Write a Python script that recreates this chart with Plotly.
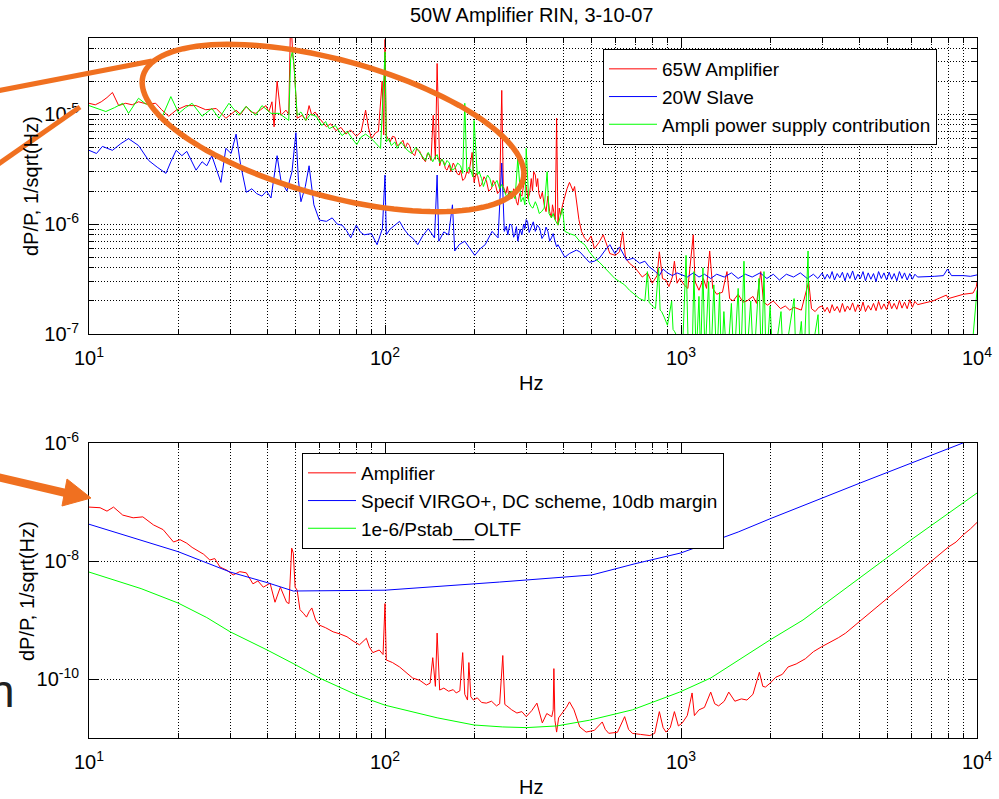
import numpy as np
import plotly.graph_objects as go

W, H = 999, 799
FONT = "Liberation Sans, Arial, Helvetica, sans-serif"

# ---------------- data (frequency Hz, RIN 1/sqrt(Hz)) ----------------
AMP65_TOP = [
    (10, 1.26e-5), (10.5, 1.22e-5), (11.0, 1.3e-5), (11.5, 1.42e-5), (12.0, 1.58e-5), (12.6, 1.2e-5),
    (13.3, 1.26e-5), (14.0, 1.22e-5), (14.7, 1.3e-5), (15.7, 1.24e-5), (16.8, 1.26e-5), (17.6, 1.1e-5),
    (18.6, 9.6e-6), (19.7, 1.09e-5), (21.3, 1.2e-5), (23.0, 1.2e-5), (24.8, 1.1e-5), (26.9, 1.13e-5),
    (29.0, 9.2e-6), (31.4, 1.09e-5), (32.5, 1.0e-5), (34.0, 1.18e-5), (35.3, 1.05e-5), (36.6, 1.02e-5),
    (38.0, 1.1e-5), (39.6, 1.2e-5), (40.5, 1.05e-5), (41.5, 1.3e-5), (42.2, 7.7e-6), (43.2, 2.0e-5),
    (44.5, 9.8e-6), (46.3, 1.09e-5), (47.3, 1.0e-5), (48.0, 8e-5), (48.8, 3.5e-5), (49.3, 2.8e-5),
    (50.5, 9.2e-6), (52.5, 9.8e-6), (54.0, 8.8e-6), (55.4, 1.2e-5), (56.6, 9.8e-6), (58.0, 1.05e-5),
    (60.0, 9.2e-6), (61.5, 8.5e-6), (63.4, 7.7e-6), (65.5, 8.2e-6), (68.3, 7.1e-6), (71.0, 7.6e-6),
    (73.8, 6.6e-6), (76.5, 7.2e-6), (80.0, 6.3e-6), (83.0, 6.9e-6), (86.0, 1.09e-5), (88.0, 7.5e-6),
    (90.0, 6.0e-6), (93.0, 6.8e-6), (95.0, 7.0e-6), (97.8, 2.0e-5), (99.0, 6.5e-6), (100.0, 4.8e-5),
    (101.0, 6.4e-6), (104, 5.6e-6), (106, 6.3e-6), (108, 6.2e-6), (110, 5.2e-6), (112, 5.3e-6),
    (115, 5.8e-6), (117, 4.9e-6), (119, 5.5e-6), (121, 5.2e-6), (123, 4.5e-6), (126, 4.2e-6),
    (128, 4.9e-6), (131, 4.6e-6), (134, 4.0e-6), (137, 3.7e-6), (139, 4.4e-6), (141, 4.3e-6),
    (143, 3.8e-6), (145.5, 9.8e-6), (148, 3.9e-6), (150, 2.9e-5), (153, 3.4e-6), (155, 3.9e-6),
    (158, 3.7e-6), (160, 3.2e-6), (162, 3.1e-6), (165, 3.5e-6), (167, 3.0e-6), (170, 3.6e-6),
    (172, 3.4e-6), (175, 2.9e-6), (178, 2.8e-6), (180, 3.1e-6), (183, 2.5e-6), (186, 2.6e-6),
    (189, 3.0e-6), (192, 2.9e-6), (197, 4.5e-6), (200, 2.4e-6), (203, 2.9e-6), (206, 2.7e-6),
    (209, 2.2e-6), (212, 2.3e-6), (216, 2.7e-6), (220, 2.5e-6), (224, 2.0e-6), (229, 2.1e-6),
    (232, 2.5e-6), (236, 2.3e-6), (240, 1.9e-6), (244, 2.0e-6), (248, 1.65e-5), (251, 2.2e-6),
    (256, 1.9e-6), (259, 2.2e-6), (262, 1.8e-6), (265, 2.0e-6), (268, 1.7e-6), (272, 2.1e-6),
    (275, 1.9e-6), (278, 1.6e-6), (281, 1.49e-6), (285, 1.9e-6), (290, 1.8e-6), (295, 2.4e-6),
    (300, 2.2e-6), (304, 1.7e-6), (308, 1.9e-6), (312, 2.6e-6), (315, 2.0e-6), (318, 3.0e-6),
    (322, 2.8e-6), (325, 2.2e-6), (328, 2.6e-6), (331, 1.9e-6), (335, 1.7e-6), (340, 1.95e-6),
    (345, 1.5e-6), (350, 1.3e-6), (355, 1.8e-6), (360, 1.3e-6), (365, 1.14e-6), (368, 1.5e-6),
    (372, 1.3e-6), (376, 1.1e-6), (380, 9.2e-6), (384, 9.8e-7), (388, 1.4e-6), (392, 1.2e-6),
    (398, 1.5e-6), (405, 1.8e-6), (412, 2.1e-6), (420, 2.4e-6), (426, 2.2e-6), (432, 2.0e-6),
    (437, 2.2e-6), (443, 1.7e-6), (452, 1.1e-6), (461, 8.6e-7), (472, 7.5e-7), (484, 7.0e-7),
    (497, 7.8e-7), (510, 6.0e-7), (528, 6.8e-7), (546, 8.0e-7), (560, 6.5e-7), (575, 5.4e-7),
    (600, 5.2e-7), (620, 5.6e-7), (635, 8.5e-7), (650, 4.9e-7), (670, 4.4e-7), (700, 4.0e-7),
    (740, 3.3e-7), (770, 3.6e-7), (800, 2.9e-7), (830, 3.4e-7), (845, 5.6e-7), (866, 3.2e-7),
    (890, 3.1e-7), (910, 2.7e-7), (935, 3.3e-7), (950, 4.6e-7), (970, 2.9e-7), (990, 3.2e-7),
    (1025, 2.8e-7), (1055, 2.6e-7), (1100, 8.0e-7), (1115, 3.0e-7), (1150, 2.5e-7), (1190, 3.2e-7),
    (1220, 2.6e-7), (1250, 5.7e-7), (1280, 2.6e-7), (1320, 2.3e-7), (1380, 2.4e-7), (1430, 3.7e-7),
    (1460, 2.1e-7), (1500, 2.0e-7), (1560, 2.3e-7), (1620, 1.95e-7), (1670, 2.0e-7), (1750, 2.2e-7),
    (1800, 1.9e-7), (1860, 3.7e-7), (1900, 1.95e-7), (1960, 1.83e-7), (2050, 2.0e-7), (2170, 1.7e-7),
    (2250, 1.8e-7), (2330, 1.65e-7), (2410, 1.75e-7), (2550, 1.65e-7), (2700, 3.0e-7), (2760, 1.7e-7),
    (2840, 1.6e-7), (2920, 1.75e-7),
    (3000, 1.8e-7), (3060, 1.6e-7), (3120, 1.75e-7), (3180, 1.55e-7), (3240, 1.85e-7), (3300, 1.62e-7),
    (3370, 1.78e-7), (3440, 1.57e-7), (3510, 1.9e-7), (3580, 1.6e-7), (3650, 1.8e-7), (3720, 1.65e-7),
    (3800, 1.92e-7), (3880, 1.6e-7), (3960, 1.85e-7), (4040, 1.62e-7), (4120, 1.95e-7), (4200, 1.6e-7),
    (4290, 1.82e-7), (4380, 1.65e-7), (4470, 1.9e-7), (4560, 1.63e-7), (4650, 1.98e-7), (4750, 1.68e-7),
    (4850, 1.88e-7), (4950, 1.66e-7), (5050, 2.0e-7), (5150, 1.7e-7), (5250, 1.9e-7), (5360, 1.68e-7),
    (5470, 2.02e-7), (5580, 1.72e-7), (5690, 1.95e-7), (5810, 1.7e-7), (5930, 2.05e-7), (6050, 1.75e-7),
    (6170, 1.98e-7), (6300, 1.85e-7), (7100, 2.0e-7), (7880, 2.26e-7), (8000, 2.1e-7), (9000, 2.3e-7),
    (9700, 2.36e-7), (9950, 2.7e-7), (10000, 3.0e-7),
]

SLAVE20_TOP = [
    (10, 4.7e-6), (10.6, 4.4e-6), (11.1, 5.1e-6), (12.0, 4.7e-6), (12.8, 5.4e-6), (13.6, 6.0e-6),
    (14.7, 5.2e-6), (15.9, 3.8e-6), (17.0, 3.3e-6), (18.2, 2.9e-6), (18.9, 3.7e-6), (19.7, 4.7e-6),
    (20.6, 4.2e-6), (21.4, 4.6e-6), (23.0, 3.1e-6), (24.1, 3.7e-6), (25.0, 3.4e-6), (26.0, 4.2e-6),
    (27.9, 2.4e-6), (29.0, 4.9e-6), (30.2, 4.4e-6), (31.4, 6.6e-6), (32.5, 3.5e-6), (34.0, 1.95e-6),
    (35.5, 2.1e-6), (36.8, 1.9e-6), (38.4, 1.8e-6), (39.8, 2.0e-6), (41.2, 1.73e-6), (43.2, 4.2e-6),
    (44.5, 2.5e-6), (46.6, 2.0e-6), (48.5, 3.0e-6), (50.0, 6.8e-6), (51.0, 2.5e-6), (52.0, 1.6e-6),
    (53.8, 2.2e-6), (55.4, 3.4e-6), (57.5, 1.5e-6), (60.0, 1.09e-6), (63.4, 1.06e-6), (66.3, 1.14e-6),
    (69.0, 1.0e-6), (71.6, 9.8e-7), (74.0, 8.8e-7), (76.6, 7.5e-7), (80.0, 9.8e-7), (82.5, 8.5e-7),
    (85.0, 8.0e-7), (90.0, 8.2e-7), (94.0, 6.5e-7), (98.0, 9.1e-7), (100.0, 2.8e-6), (101, 8.0e-7),
    (104, 9.0e-7), (108, 9.8e-7), (112, 1.06e-6), (116, 9.0e-7), (120, 8.0e-7), (125, 7.3e-7),
    (129, 6.5e-7), (134, 7.8e-7), (140, 9.1e-7), (147, 7.5e-7), (150, 2.8e-6), (152, 7.0e-7),
    (158, 8.5e-7), (164, 8.0e-7), (169, 1.5e-6), (172, 5.7e-7), (178, 6.5e-7), (186, 7.0e-7),
    (193, 6.0e-7), (201, 5.2e-7), (210, 6.0e-7), (218, 6.5e-7), (230, 8.6e-7), (241, 7.5e-7),
    (248, 3.6e-6), (253, 8.6e-7), (257, 9.6e-7), (260, 8.0e-7), (264, 1.0e-6), (268, 9.8e-7),
    (272, 7.6e-7), (275, 8.2e-7), (278, 9.5e-7), (281, 7.0e-7), (286, 9.0e-7), (290, 8.0e-7),
    (294, 1.0e-6), (297, 9.1e-7), (300, 1.1e-6), (303, 1.06e-6), (307, 8.4e-7), (312, 9.5e-7),
    (317, 1.05e-6), (322, 8.6e-7), (327, 9.8e-7), (333, 9.2e-7), (339, 7.4e-7), (345, 8.0e-7),
    (350, 9.4e-7), (355, 8.6e-7), (360, 7.0e-7), (365, 7.5e-7), (370, 8.2e-7), (375, 7.0e-7),
    (380, 6.2e-7), (384, 6.5e-7), (390, 6.0e-7), (395, 5.8e-7), (405, 5.0e-7), (420, 5.4e-7),
    (443, 5.8e-7), (455, 5.6e-7), (473, 5.0e-7), (490, 4.5e-7), (510, 4.6e-7), (530, 4.9e-7),
    (552, 5.7e-7), (575, 6.5e-7), (598, 5.4e-7), (620, 6.2e-7), (655, 4.7e-7), (690, 4.9e-7),
    (725, 4.4e-7), (755, 4.6e-7), (780, 4.1e-7), (820, 3.7e-7), (845, 3.4e-7), (870, 3.9e-7),
    (900, 3.6e-7), (935, 3.4e-7), (970, 3.6e-7), (1000, 3.5e-7), (1050, 3.3e-7), (1100, 3.6e-7),
    (1150, 3.3e-7), (1200, 3.5e-7), (1260, 3.2e-7), (1320, 3.5e-7), (1400, 3.3e-7), (1480, 3.6e-7),
    (1560, 3.2e-7), (1650, 3.5e-7), (1740, 3.3e-7), (1850, 3.6e-7), (1950, 3.2e-7), (2050, 3.5e-7),
    (2150, 3.1e-7), (2270, 3.5e-7), (2400, 3.3e-7), (2530, 3.6e-7), (2670, 3.2e-7), (2800, 3.5e-7),
    (2900, 3.2e-7),
    (3000, 3.6e-7), (3060, 3.15e-7), (3120, 3.5e-7), (3180, 3.2e-7), (3240, 3.7e-7), (3300, 3.1e-7),
    (3370, 3.55e-7), (3440, 3.25e-7), (3510, 3.65e-7), (3580, 3.05e-7), (3650, 3.6e-7), (3720, 3.2e-7),
    (3800, 3.75e-7), (3880, 3.1e-7), (3960, 3.5e-7), (4040, 3.2e-7), (4120, 3.7e-7), (4200, 3.05e-7),
    (4290, 3.6e-7), (4380, 3.15e-7), (4470, 3.55e-7), (4560, 3.0e-7), (4650, 3.7e-7), (4750, 3.2e-7),
    (4850, 3.6e-7), (4950, 3.1e-7), (5050, 3.65e-7), (5150, 3.15e-7), (5250, 3.55e-7), (5360, 3.05e-7),
    (5470, 3.7e-7), (5580, 3.2e-7), (5690, 3.6e-7), (5810, 3.1e-7), (5930, 3.55e-7), (6050, 3.15e-7),
    (6170, 3.5e-7), (6300, 3.3e-7), (7170, 3.35e-7), (7700, 3.4e-7), (7950, 3.9e-7), (8200, 3.4e-7),
    (9000, 3.4e-7), (9500, 3.35e-7), (10000, 3.45e-7),
]

SUPPLY_TOP = [
    (10, 1.2e-5), (11.4, 1.06e-5), (12.2, 1.15e-5), (13.0, 1.26e-5), (13.6, 1.02e-5), (14.7, 1.4e-5),
    (15.5, 1.25e-5), (16.3, 1.2e-5), (17.7, 9.6e-6), (18.9, 1.45e-5), (20.1, 1.02e-5), (21.2, 1.15e-5),
    (22.3, 1.26e-5), (24.1, 9.6e-6), (26.0, 1.13e-5), (27.5, 9.2e-6), (29.7, 1.26e-5), (32.1, 9.8e-6),
    (33.9, 1.18e-5), (36.6, 9.8e-6), (38.4, 1.2e-5), (41.2, 1.02e-5), (43.9, 1.02e-5), (46.3, 9.2e-6),
    (47.3, 8.8e-6), (48.0, 3.2e-5), (48.7, 3.8e-5), (49.4, 2.5e-5), (50.5, 9.8e-6), (52.0, 1.05e-5),
    (54.0, 8.8e-6), (56.0, 1.0e-5), (58.5, 9.6e-6), (61.2, 7.9e-6), (63.0, 8.6e-6), (64.8, 7.4e-6),
    (68.0, 7.9e-6), (71.6, 6.4e-6), (74.5, 7.0e-6), (77.5, 6.0e-6), (80.3, 5.3e-6), (83.0, 6.2e-6),
    (86.0, 6.6e-6), (90.0, 6.0e-6), (93.0, 5.5e-6), (96.6, 4.9e-6), (99.0, 2.0e-5), (100.0, 3.7e-5),
    (101.0, 5.6e-6), (103, 6.0e-6), (105, 5.2e-6), (108, 5.6e-6), (110, 4.9e-6), (113, 5.6e-6),
    (115, 5.3e-6), (119, 4.7e-6), (123, 4.4e-6), (127, 5.0e-6), (130, 4.6e-6), (134, 4.1e-6),
    (137, 3.8e-6), (140, 4.5e-6), (142, 4.2e-6), (145, 3.7e-6), (147, 4.0e-6), (150, 4.3e-6),
    (153, 3.6e-6), (156, 3.9e-6), (159, 3.4e-6), (162, 3.8e-6), (165, 3.6e-6), (168, 3.1e-6),
    (172, 3.2e-6), (176, 3.6e-6), (180, 3.4e-6), (183, 2.9e-6), (186, 1.26e-5), (189, 3.0e-6),
    (192, 3.3e-6), (195, 3.1e-6), (198, 2.7e-6), (200, 8.8e-6), (205, 2.8e-6), (208, 3.0e-6),
    (212, 2.6e-6), (215, 2.2e-6), (218, 2.45e-6), (222, 2.8e-6), (226, 2.6e-6), (230, 2.2e-6),
    (234, 2.3e-6), (239, 2.5e-6), (244, 2.1e-6), (248, 2.3e-6), (253, 2.0e-6), (257, 1.8e-6),
    (262, 1.9e-6), (268, 2.0e-6), (275, 1.7e-6), (281, 4.0e-6), (288, 1.6e-6), (293, 1.75e-6),
    (297, 1.5e-6), (300, 4.9e-6), (306, 1.6e-6), (311, 1.45e-6), (316, 1.4e-6), (322, 1.6e-6),
    (327, 1.45e-6), (332, 1.25e-6), (338, 1.3e-6), (345, 1.4e-6), (353, 3.0e-6), (358, 1.25e-6),
    (365, 1.14e-6), (370, 1.25e-6), (375, 1.1e-6), (384, 9.8e-7), (398, 1.4e-6), (405, 8.6e-7),
    (420, 8.2e-7), (438, 7.9e-7), (455, 7.0e-7), (473, 6.5e-7), (490, 5.6e-7), (510, 4.9e-7),
    (530, 4.5e-7), (552, 4.0e-7), (575, 3.6e-7), (598, 3.2e-7), (620, 3.0e-7), (645, 2.8e-7),
    (670, 2.5e-7), (700, 2.26e-7), (725, 2.1e-7), (755, 2.0e-7), (770, 3.7e-7), (780, 1.95e-7),
    (795, 1.83e-7), (820, 1.7e-7), (840, 4.0e-7), (850, 1.65e-7), (860, 1.6e-7), (880, 1.4e-7),
    (900, 1.2e-7), (930, 2.0e-7), (940, 1.1e-7), (950, 1.06e-7), (970, 9.5e-8), (990, 8.5e-8),
    (1010, 6e-8), (1040, 5.2e-7), (1060, 6e-8), (1090, 6e-8), (1106, 3.7e-7), (1125, 6e-8),
    (1150, 2.2e-7), (1165, 6e-8), (1186, 4.0e-7), (1205, 6e-8), (1240, 3.0e-7), (1260, 5e-8),
    (1291, 2.8e-7), (1320, 5e-8), (1350, 2.4e-7), (1370, 5e-8), (1396, 1.6e-7), (1430, 5e-8),
    (1480, 1.9e-7), (1510, 5e-8), (1560, 2.6e-7), (1590, 5e-8), (1632, 4.6e-7), (1660, 5e-8),
    (1720, 2.0e-7), (1760, 5e-8), (1834, 3.2e-7), (1870, 5e-8), (1907, 3.7e-7), (1940, 5e-8),
    (2000, 1.8e-7), (2050, 5e-8), (2177, 1.6e-7), (2220, 5e-8), (2410, 2.1e-7), (2450, 5e-8),
    (2550, 1.3e-7), (2600, 5e-8), (2687, 5.7e-7), (2720, 5e-8), (2904, 1.5e-7), (2950, 5e-8),
    (9500, 5e-8), (9800, 1.5e-7), (10000, 2.5e-7),
]

AMP_BOTTOM = [
    (10, 8.2e-8), (10.9, 8.0e-8), (11.5, 7.0e-8), (12.1, 8.2e-8), (13.0, 6.0e-8), (14.1, 5.4e-8),
    (15.2, 5.6e-8), (16.5, 4.1e-8), (17.8, 3.4e-8), (19.3, 2.1e-8), (20.3, 2.3e-8), (21.4, 2.0e-8),
    (22.3, 1.7e-8), (23.2, 1.5e-8), (24.4, 1.3e-8), (25.6, 1.04e-8), (26.6, 1.1e-8), (27.7, 7.9e-9),
    (29.2, 7.0e-9), (30.7, 5.8e-9), (32.3, 6.6e-9), (34.0, 6.3e-9), (35.8, 4.1e-9), (37.2, 4.6e-9),
    (38.8, 3.6e-9), (40.9, 4.2e-9), (42.5, 2.0e-9), (44.3, 3.6e-9), (45.5, 2.6e-9), (46.5, 2.0e-9),
    (47.4, 1.9e-9), (48.0, 8e-9), (48.4, 1.65e-8), (49.0, 1.36e-8), (49.7, 3.6e-9), (50.5, 3.2e-9),
    (51.6, 1.5e-9), (53.0, 1.3e-9), (54.3, 1.12e-9), (55.5, 1.4e-9), (56.6, 1.6e-9), (58.3, 1.0e-9),
    (60.0, 8.2e-10), (63.0, 7.4e-10), (66.8, 6.3e-10), (70.5, 5.8e-10), (74.4, 5.2e-10), (78.0, 4.4e-10),
    (82.0, 3.8e-10), (86.5, 4.9e-10), (88.5, 3.5e-10), (91.0, 2.8e-10), (95.6, 3.1e-10), (98.5, 2.6e-10),
    (100, 1.9e-9), (101, 2.1e-10), (106, 1.9e-10), (112, 1.6e-10), (118, 1.3e-10), (124, 1.04e-10),
    (131, 9.5e-11), (138, 7.9e-11), (142, 8.5e-11), (145, 2.3e-10), (148, 7.5e-11), (150, 6.0e-10),
    (153, 6.5e-11), (158, 7.0e-11), (164, 6.2e-11), (170, 6.6e-11), (174, 5.8e-11), (179, 6.3e-11),
    (183, 2.8e-10), (186, 5.5e-11), (190, 4.4e-11), (192, 1.9e-10), (195, 5.0e-11), (199, 4.4e-11),
    (205, 4.8e-11), (212, 4.0e-11), (220, 3.9e-11), (229, 4.2e-11), (238, 3.5e-11), (244, 3.8e-11),
    (250, 2.5e-10), (254, 3.7e-11), (258, 3.5e-11), (268, 3.0e-11), (279, 2.65e-11), (290, 2.8e-11),
    (300, 2.3e-11), (313, 2.9e-11), (326, 3.9e-11), (333, 2.5e-11), (340, 1.8e-11), (352, 2.6e-11),
    (366, 2.3e-11), (370, 3.0e-11), (372, 1.5e-10), (375, 2.0e-11), (380, 1.26e-11), (386, 2.2e-11),
    (398, 2.65e-11), (410, 3.3e-11), (420, 4.1e-11), (435, 3.0e-11), (455, 1.54e-11), (466, 1.4e-11),
    (478, 1.26e-11), (510, 1.35e-11), (542, 1.87e-11), (555, 1.4e-11), (570, 1.2e-11), (610, 1.25e-11),
    (645, 2.3e-11), (665, 1.4e-11), (685, 1.2e-11), (730, 1.15e-11), (785, 1.1e-11), (815, 1.2e-11),
    (845, 2.8e-11), (870, 1.5e-11), (890, 1.26e-11), (920, 1.5e-11), (950, 2.8e-11), (980, 1.6e-11),
    (1010, 1.8e-11), (1050, 2.4e-11), (1090, 5.8e-11), (1110, 2.4e-11), (1150, 3.0e-11), (1200, 3.3e-11),
    (1260, 6.0e-11), (1300, 3.8e-11), (1340, 3.5e-11), (1400, 4.2e-11), (1450, 6.0e-11), (1520, 4.2e-11),
    (1600, 4.6e-11), (1670, 4.4e-11), (1750, 5.5e-11), (1840, 1.3e-10), (1890, 7.5e-11), (1930, 7.3e-11),
    (2000, 8.5e-11), (2090, 1.07e-10), (2200, 1.2e-10), (2300, 1.6e-10), (2450, 1.8e-10), (2630, 2.2e-10),
    (2800, 2.9e-10), (2980, 3.5e-10), (3200, 4.2e-10), (3400, 5.0e-10), (3600, 6.0e-10), (3800, 7.5e-10),
    (3990, 9.5e-10), (4250, 1.2e-9), (4560, 1.6e-9), (5000, 2.4e-9), (5500, 3.5e-9), (6000, 5.1e-9),
    (6500, 7.2e-9), (7000, 9.8e-9), (7500, 1.3e-8), (8000, 1.72e-8), (8500, 2.1e-8), (9000, 2.8e-8),
    (9500, 3.5e-8), (10000, 4.5e-8),
]

SPEC_BOTTOM = [
    (10, 4.2e-8), (20, 1.44e-8), (30, 6.5e-9), (40, 4.3e-9), (49, 3.1e-9), (100, 3.2e-9),
    (244, 4.4e-9), (500, 5.8e-9), (700, 9.0e-9), (1000, 1.37e-8), (1560, 3.1e-8), (2000, 5.2e-8),
    (4030, 2.1e-7), (8980, 1.0e-6), (10000, 1.24e-6),
]

OLTF_BOTTOM = [
    (10, 6.5e-9), (12, 4.9e-9), (15, 3.4e-9), (20, 1.94e-9), (25, 1.1e-9), (30, 6.3e-10),
    (40, 3.1e-10), (50, 1.73e-10), (60, 1.04e-10), (80, 5.4e-11), (100, 3.6e-11), (150, 2.2e-11),
    (200, 1.66e-11), (250, 1.54e-11), (300, 1.5e-11), (380, 1.6e-11), (490, 2.0e-11), (685, 3.0e-11),
    (990, 6.0e-11), (1260, 1.04e-10), (2000, 4.6e-10), (2583, 1.0e-9), (3110, 2.0e-9), (4030, 5.4e-9),
    (6000, 2.3e-8), (10000, 1.42e-7),
]

X_TICKS = [10, 100, 1000, 10000]
X_TICK_TEXT = ["10<sup>1</sup>", "10<sup>2</sup>", "10<sup>3</sup>", "10<sup>4</sup>"]
X_MINOR = [m * 10 ** k for k in (1, 2, 3) for m in range(2, 10)]
Y1_TICKS = [1e-7, 1e-6, 1e-5]
Y1_TICK_TEXT = ["10<sup>-7</sup>", "10<sup>-6</sup>", "10<sup>-5</sup>"]
Y1_MINOR = [m * 10.0 ** k for k in (-7, -6) for m in range(2, 10)] + [2e-5, 3e-5, 4e-5]
Y2_TICKS = [1e-10, 1e-8, 1e-6]
Y2_TICK_TEXT = ["10<sup>-10</sup>", "10<sup>-8</sup>", "10<sup>-6</sup>"]

RED, BLUE, GREEN = "#ff0000", "#0000ff", "#00ff00"
ORANGE = "#f07020"


def xy(pairs):
    return [p[0] for p in pairs], [p[1] for p in pairs]


fig = go.Figure()

for pairs, name, color in [(AMP65_TOP, "65W Amplifier", RED),
                           (SLAVE20_TOP, "20W Slave", BLUE),
                           (SUPPLY_TOP, "Ampli power supply contribution", GREEN)]:
    fx, fy = xy(pairs)
    fig.add_trace(go.Scatter(x=fx, y=fy, mode="lines", name=name, line=dict(color=color, width=1),
                             xaxis="x", yaxis="y", legend="legend"))

for pairs, name, color in [(AMP_BOTTOM, "Amplifier", RED),
                           (SPEC_BOTTOM, "Specif VIRGO+, DC scheme, 10db margin", BLUE),
                           (OLTF_BOTTOM, "1e-6/Pstab__OLTF", GREEN)]:
    fx, fy = xy(pairs)
    fig.add_trace(go.Scatter(x=fx, y=fy, mode="lines", name=name, line=dict(color=color, width=1),
                             xaxis="x2", yaxis="y2", legend="legend2"))

GRID = dict(showgrid=True, gridcolor="#000000", griddash="1px,2px", gridwidth=1)
TICKFONT = dict(family=FONT, size=20, color="black")


def x_axis(anchor):
    return dict(type="log", range=[1, 4], domain=[89 / W, 977 / W], anchor=anchor, automargin=False,
                tickmode="array", tickvals=X_TICKS, ticktext=X_TICK_TEXT,
                ticks="inside", ticklen=9, tickcolor="black",
                showline=True, linecolor="black", linewidth=1, mirror="ticks", zeroline=False,
                minor=dict(tickmode="array", tickvals=X_MINOR, ticks="inside", ticklen=5,
                           tickcolor="black", **GRID),
                tickfont=TICKFONT, ticklabelstandoff=6, **GRID)


def y_axis(anchor, rng, dom, tv, tt, minor=None):
    d = dict(type="log", range=rng, domain=dom, anchor=anchor, automargin=False,
             tickmode="array", tickvals=tv, ticktext=tt,
             ticks="inside", ticklen=9, tickcolor="black",
             showline=True, linecolor="black", linewidth=1, mirror="ticks", zeroline=False,
             tickfont=TICKFONT, ticklabelstandoff=5, **GRID)
    if minor is not None:
        d["minor"] = dict(tickmode="array", tickvals=minor, ticks="inside", ticklen=5,
                          tickcolor="black", **GRID)
    return d


def P(x, y):
    return x / W, 1 - y / H


shapes = []
# orange ellipse
cx, cy, a, b, th = 333, 128, 197, 68, np.radians(15.3)
t = np.linspace(0, 2 * np.pi, 121)
ex = cx + a * np.cos(t) * np.cos(th) - b * np.sin(t) * np.sin(th)
ey = cy + a * np.cos(t) * np.sin(th) + b * np.sin(t) * np.cos(th)
path = "M " + " L ".join(f"{P(u, v)[0]:.5f},{P(u, v)[1]:.5f}" for u, v in zip(ex, ey)) + " Z"
shapes.append(dict(type="path", path=path, xref="paper", yref="paper",
                   line=dict(color=ORANGE, width=5.5), layer="above"))
for (x0, y0, x1, y1) in [(-3, 91, 152, 61), (-3, 165, 80, 107)]:
    a0, b0 = P(x0, y0)
    a1, b1 = P(x1, y1)
    shapes.append(dict(type="line", x0=a0, y0=b0, x1=a1, y1=b1, xref="paper", yref="paper",
                       line=dict(color=ORANGE, width=5), layer="above"))
# arrow to bottom plot
a0, b0 = P(-3, 477)
a1, b1 = P(70, 494)
shapes.append(dict(type="line", x0=a0, y0=b0, x1=a1, y1=b1, xref="paper", yref="paper",
                   line=dict(color=ORANGE, width=8), layer="above"))
tri = [P(67, 479), P(91, 498), P(62, 506)]
shapes.append(dict(type="path", xref="paper", yref="paper", layer="above",
                   path="M " + " L ".join(f"{u:.5f},{v:.5f}" for u, v in tri) + " Z",
                   fillcolor=ORANGE, line=dict(color=ORANGE, width=1)))

annotations = []


def text(s, x, y, size=20, angle=0, xanchor="center", yanchor="middle", color="black"):
    px, py = P(x, y)
    annotations.append(dict(text=s, x=px, y=py, xref="paper", yref="paper", showarrow=False,
                            xanchor=xanchor, yanchor=yanchor, textangle=angle,
                            font=dict(family=FONT, size=size, color=color)))


text("50W Amplifier RIN, 3-10-07", 531, 15)
text("Hz", 531, 383)
text("Hz", 531, 787)
text("dP/P, 1/sqrt(Hz)", 31, 186, angle=-90)
text("dP/P, 1/sqrt(Hz)", 27, 591, angle=-90)
text("n", 17, 691, size=46, xanchor="right", color="#202020")

LEG = dict(xanchor="left", yanchor="top", bgcolor="white", bordercolor="black", borderwidth=1,
           font=dict(family=FONT, size=19, color="black"), itemwidth=48, tracegroupgap=0)

fig.update_layout(
    width=W, height=H, autosize=False,
    margin=dict(l=0, r=0, t=0, b=0, pad=0, autoexpand=False),
    paper_bgcolor="white", plot_bgcolor="white",
    showlegend=True,
    xaxis=x_axis("y"),
    yaxis=y_axis("x", [-7, np.log10(4.95e-5)], [1 - 334 / H, 1 - 38 / H], Y1_TICKS, Y1_TICK_TEXT, Y1_MINOR),
    xaxis2=x_axis("y2"),
    yaxis2=y_axis("x2", [-11, -6], [1 - 738 / H, 1 - 443 / H], Y2_TICKS, Y2_TICK_TEXT),
    legend=dict(x=603 / W, y=1 - 49 / H, **LEG),
    legend2=dict(x=302 / W, y=1 - 453 / H, **LEG),
    shapes=shapes,
    annotations=annotations,
)

fig.write_html("out.html")
